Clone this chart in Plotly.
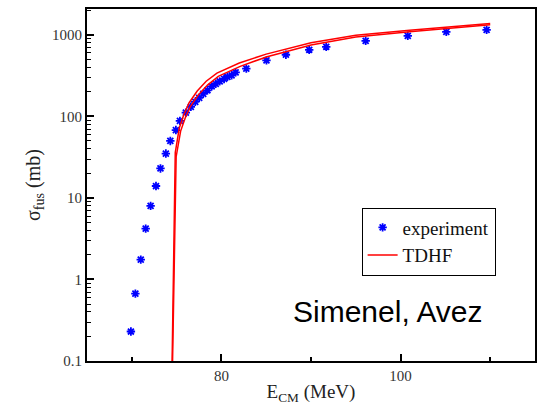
import plotly.graph_objects as go

# Experimental fusion cross sections
exp_E = [69.9, 70.4, 71.0, 71.55, 72.1, 72.7, 73.2, 73.8, 74.3, 74.92, 75.37, 76.03,
         76.59, 77.08, 77.52, 77.97, 78.44, 78.92, 79.37, 79.81, 80.3, 80.67, 81.14,
         81.59, 82.78, 85.03, 87.2, 89.8, 91.7, 96.1, 100.8, 105.1, 109.6]
exp_sigma = [0.23, 0.67, 1.75, 4.2, 8.0, 14, 23, 35, 50, 68, 88, 111,
             131, 151, 169, 189, 209, 234, 251, 269, 288, 305, 319,
             347, 385, 486, 570, 656, 714, 845, 973, 1089, 1151]

# TDHF (double line)
tdhf1_E = [74.5, 74.85, 75.3, 75.8, 76.4, 77.3, 78.3, 79.5, 82.0, 85.0, 90.0, 95.0, 101.0, 110.0]
tdhf1_sigma = [0.1, 36, 72, 105, 147, 205, 270, 340, 452, 580, 800, 990, 1140, 1380]
tdhf2_E = [74.55, 74.95, 75.45, 75.95, 76.55, 77.45, 78.45, 79.65, 82.1, 85.1, 90.0, 95.0, 101.0, 110.0]
tdhf2_sigma = [0.1, 32, 66, 95, 133, 185, 242, 310, 411, 540, 750, 940, 1090, 1330]

y_tickvals = [0.1, 1, 10, 100, 1000]
y_ticktext = ["0.1", "1", "10", "100", "1000"]
y_minor_vals = [m * d for d in [0.1, 1, 10, 100, 1000] for m in range(2, 10) if m * d <= 2000]
x_tickvals = [80, 100]
x_ticktext = ["80", "100"]
x_minor_vals = [70, 90, 110]

serif = "Liberation Serif"

fig = go.Figure()
fig.add_trace(go.Scatter(
    x=exp_E, y=exp_sigma, mode="markers", name="experiment",
    marker=dict(symbol="asterisk-open", size=7, color="#0000ff",
                line=dict(color="#0000ff", width=1.8)),
))
fig.add_trace(go.Scatter(
    x=tdhf1_E, y=tdhf1_sigma, mode="lines", name="TDHF",
    line=dict(color="#ff0000", width=1.5),
))
fig.add_trace(go.Scatter(
    x=tdhf2_E, y=tdhf2_sigma, mode="lines", name="TDHF", showlegend=False,
    line=dict(color="#ff0000", width=1.5),
))

fig.update_layout(
    width=537, height=405,
    margin=dict(l=87, r=0, t=9, b=42),
    paper_bgcolor="white", plot_bgcolor="white",
    font=dict(family=serif, color="#222222"),
    showlegend=True,
    legend=dict(
        x=0.613, y=0.436, xanchor="left", yanchor="top",
        bgcolor="white", bordercolor="black", borderwidth=1,
        font=dict(family=serif, size=19, color="#111111"),
        itemwidth=30, tracegroupgap=0,
    ),
    annotations=[dict(
        text="Simenel, Avez", x=0.671, y=0.141, xref="paper", yref="paper",
        xanchor="center", yanchor="middle", showarrow=False,
        font=dict(family="Liberation Sans", size=30, color="black"),
    )],
)

fig.update_xaxes(
    range=[65, 115], showgrid=False, zeroline=False,
    showline=True, linecolor="black", linewidth=2, mirror=True,
    ticks="inside", ticklen=7, tickwidth=2, tickcolor="black",
    tickvals=x_tickvals, ticktext=x_ticktext,
    tickfont=dict(family=serif, size=15, color="#333333"),
    minor=dict(ticks="inside", ticklen=4, tickwidth=1.5, tickcolor="black",
               tickvals=x_minor_vals, showgrid=False),
    title=dict(text="E<sub>CM</sub> (MeV)", font=dict(family=serif, size=19, color="#222222"), standoff=8),
)
fig.update_yaxes(
    type="log", range=[-1, 3.317], showgrid=False, zeroline=False,
    showline=True, linecolor="black", linewidth=2, mirror=True,
    ticks="inside", ticklen=7, tickwidth=2, tickcolor="black",
    tickvals=y_tickvals, ticktext=y_ticktext,
    tickfont=dict(family=serif, size=15, color="#333333"),
    minor=dict(ticks="inside", ticklen=4, tickwidth=1, tickcolor="black",
               tickvals=y_minor_vals, showgrid=False),
    title=dict(text="σ<sub>fus</sub> (mb)", font=dict(family=serif, size=20, color="#222222"), standoff=6),
)

fig.write_html("out.html")
